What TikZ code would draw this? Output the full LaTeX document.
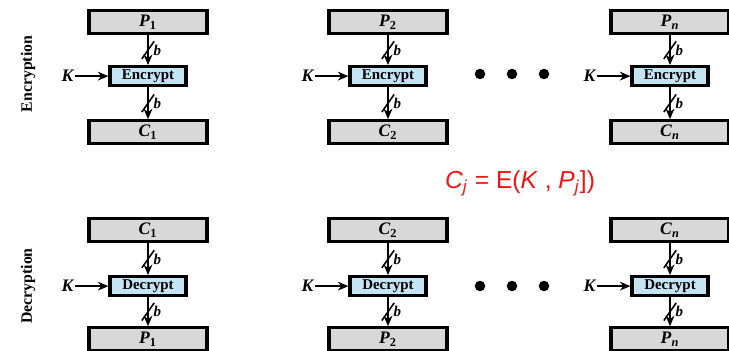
\documentclass[tikz,border=0pt]{standalone}
\usepackage{fontspec}
\setmainfont{Liberation Serif}
\newfontfamily\eqfont{Liberation Sans}
\usepackage{xcolor}
\usetikzlibrary{arrows.meta,positioning}
\definecolor{blockgray}{RGB}{216,216,216}
\definecolor{cipherblue}{RGB}{196,228,244}
\definecolor{eqred}{RGB}{240,20,20}

\begin{document}
\begin{tikzpicture}[
  x=0.02cm, y=-0.02cm,
  datbox/.style={draw, line width=1.8pt, fill=blockgray, minimum width=2.36cm,
                 minimum height=0.46cm, inner sep=0pt, font=\fontsize{10}{11}\selectfont\bfseries},
  ciphbox/.style={draw, line width=1.8pt, fill=cipherblue, minimum width=1.52cm,
                  minimum height=0.38cm, inner sep=0pt, font=\fontsize{8.5}{10}\selectfont\bfseries},
  keylbl/.style={font=\fontsize{10}{11}\selectfont\bfseries\itshape, inner sep=1pt},
  arr/.style={-{Stealth[length=6pt,width=5pt]}, line width=1.5pt},
  buslbl/.style={font=\fontsize{8.5}{9}\selectfont\bfseries\itshape, inner sep=0pt},
  rowlbl/.style={rotate=90, font=\fontsize{9}{10}\selectfont\bfseries}
]
\useasboundingbox (0,0) rectangle (729,351);

% encryption row (top) and decryption row (bottom)
\foreach \x/\s/\n in {148/1/1, 388/2/2, 670/\textit{n}/3} {
  \node[datbox] (ptop\n) at (\x,22) {\textit{P}\textsubscript{\s}};
  \node[ciphbox, below=0.6cm of ptop\n] (enc\n) {Encrypt};
  \node[datbox, below=0.64cm of enc\n] (ctop\n) {\textit{C}\textsubscript{\s}};
  \node[keylbl, left=0.66cm of enc\n] (kenc\n) {K};
  \draw[arr] (kenc\n) -- (enc\n);
  \draw[arr] (ptop\n) -- coordinate[midway] (bt\n) (enc\n);
  \draw[arr] (enc\n) -- coordinate[midway] (bu\n) (ctop\n);

  \node[datbox] (cbot\n) at (\x,230) {\textit{C}\textsubscript{\s}};
  \node[ciphbox, below=0.64cm of cbot\n] (dec\n) {Decrypt};
  \node[datbox, below=0.58cm of dec\n] (pbot\n) {\textit{P}\textsubscript{\s}};
  \node[keylbl, left=0.66cm of dec\n] (kdec\n) {K};
  \draw[arr] (kdec\n) -- (dec\n);
  \draw[arr] (cbot\n) -- coordinate[midway] (bv\n) (dec\n);
  \draw[arr] (dec\n) -- coordinate[midway] (bw\n) (pbot\n);

  % bus width marks
  \foreach \c in {bt,bu,bv,bw} {
    \draw[line width=0.9pt] ([xshift=-3.5,yshift=-5]\c\n) -- ([xshift=3.5,yshift=5]\c\n);
    \node[buslbl, right=3pt of \c\n] {b};
  }
}

% dots between the columns
\foreach \x in {480,512,544} {
  \fill (\x,74) circle (0.105cm);
  \fill (\x,286) circle (0.105cm);
}

\node[rowlbl] (encl) at (28,74) {Encryption};
\node[rowlbl] (decl) at (28,286) {Decryption};

\node[text=eqred, font=\fontsize{14}{16}\selectfont\eqfont] (eq) at (520,183)
  {\textit{C}\textsubscript{\textit{j}} = E(\textit{K} , \textit{P}\textsubscript{\textit{j}}])};
\end{tikzpicture}
\end{document}
